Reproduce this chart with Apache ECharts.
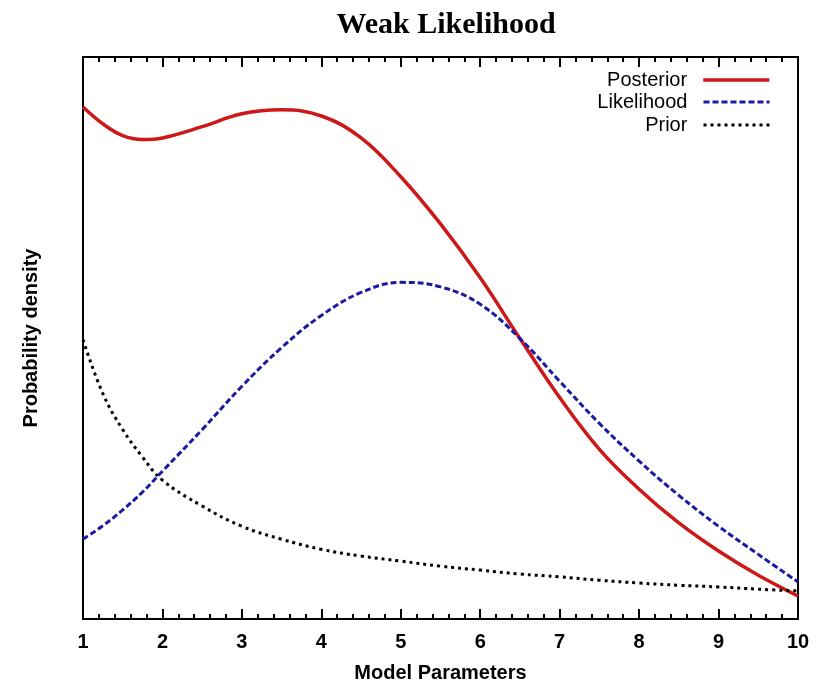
<!DOCTYPE html>
<html>
<head>
<meta charset="utf-8">
<script src="https://cdn.jsdelivr.net/npm/echarts@6/dist/echarts.min.js"></script>
<style>
  html, body { margin: 0; padding: 0; background: #ffffff; }
  #chart { width: 828px; height: 688px; }
</style>
</head>
<body>
<div id="chart"></div>
<script>
// Model parameter grid shared by all three densities
const params = [1, 1.25, 1.5, 1.75, 2, 2.5, 3, 3.5, 4, 4.5, 5, 5.5, 6, 6.5, 7, 7.5, 8, 8.5, 9, 9.5, 10];

// Density values (arbitrary units) at each parameter
const posterior  = [0.911, 0.881, 0.860, 0.853, 0.856, 0.876, 0.899, 0.906, 0.895, 0.856, 0.787, 0.703, 0.607, 0.499, 0.394, 0.302, 0.231, 0.171, 0.121, 0.078, 0.041];
const likelihood = [0.142, 0.166, 0.194, 0.226, 0.263, 0.337, 0.414, 0.483, 0.540, 0.581, 0.599, 0.591, 0.560, 0.499, 0.423, 0.348, 0.281, 0.220, 0.165, 0.115, 0.066];
const prior      = [0.497, 0.401, 0.337, 0.288, 0.247, 0.201, 0.165, 0.142, 0.124, 0.112, 0.103, 0.094, 0.087, 0.080, 0.075, 0.069, 0.064, 0.060, 0.057, 0.053, 0.050];

const xTicks = [1, 2, 3, 4, 5, 6, 7, 8, 9, 10];

const pairs = vals => params.map((p, i) => [p, vals[i]]);

const SANS = 'Liberation Sans, Arial, sans-serif';
const RED = '#cc1818';
const BLUE = '#1a1aa6';
const BLACK = '#000000';

const chart = echarts.init(document.getElementById('chart'), null, { renderer: 'canvas' });

// One legend box per entry so the texts and line samples stay right-aligned
function legendEntry(name, top) {
  return {
    data: [name],
    orient: 'vertical',
    right: 57,
    top: top,
    align: 'right',
    padding: 0,
    itemWidth: 66,
    itemHeight: 14,
    selectedMode: false,
    itemStyle: { opacity: 0 },
    lineStyle: { width: 'inherit' },
    formatter: n => n + '  ',
    textStyle: { fontFamily: SANS, fontSize: 20, color: '#000' }
  };
}

const option = {
  backgroundColor: '#ffffff',
  animation: false,
  title: {
    text: 'Weak Likelihood',
    left: 441,
    textAlign: 'center',
    top: 5,
    textStyle: { fontFamily: 'Liberation Serif, Times New Roman, serif', fontWeight: 'bold', fontSize: 30, color: '#000' }
  },
  legend: [
    legendEntry('Posterior', 70),
    legendEntry('Likelihood', 92),
    legendEntry('Prior', 115)
  ],
  grid: {
    left: 83, right: 30, top: 57, bottom: 68,
    show: true, borderColor: '#000', borderWidth: 2, backgroundColor: 'transparent'
  },
  xAxis: [
    {
      type: 'value', min: xTicks[0], max: xTicks[xTicks.length - 1], interval: 1,
      position: 'bottom',
      name: 'Model Parameters', nameLocation: 'middle', nameGap: 44,
      nameTextStyle: { fontFamily: SANS, fontSize: 20, fontWeight: 'bold', color: '#000' },
      axisLine: { show: false },
      axisTick: { show: true, inside: true, length: 10, lineStyle: { color: '#000', width: 2 } },
      minorTick: { show: true, splitNumber: 5, length: 5, lineStyle: { color: '#000', width: 2 } },
      axisLabel: { fontFamily: SANS, fontSize: 20, fontWeight: 'bold', color: '#000', margin: 13 },
      splitLine: { show: false }
    },
    {
      type: 'value', min: xTicks[0], max: xTicks[xTicks.length - 1], interval: 1,
      position: 'top',
      axisLine: { show: false },
      axisTick: { show: true, inside: true, length: 10, lineStyle: { color: '#000', width: 2 } },
      minorTick: { show: true, splitNumber: 5, length: 5, lineStyle: { color: '#000', width: 2 } },
      axisLabel: { show: false },
      splitLine: { show: false }
    }
  ],
  yAxis: {
    type: 'value', min: 0, max: 1,
    name: 'Probability density', nameLocation: 'middle', nameGap: 42, nameRotate: 90,
    nameTextStyle: { fontFamily: SANS, fontSize: 20, fontWeight: 'bold', color: '#000' },
    axisLine: { show: false },
    axisTick: { show: false },
    axisLabel: { show: false },
    splitLine: { show: false }
  },
  series: [
    {
      name: 'Posterior', type: 'line', smooth: 0.4, showSymbol: false,
      data: pairs(posterior),
      color: RED,
      lineStyle: { color: RED, width: 3.5 }
    },
    {
      name: 'Likelihood', type: 'line', smooth: 0.4, showSymbol: false,
      data: pairs(likelihood),
      color: BLUE,
      lineStyle: { color: BLUE, width: 3, type: [6, 3] }
    },
    {
      name: 'Prior', type: 'line', smooth: 0.4, showSymbol: false,
      data: pairs(prior),
      color: BLACK,
      lineStyle: { color: BLACK, width: 3, type: [3, 4] }
    }
  ]
};

chart.setOption(option);
</script>
</body>
</html>
